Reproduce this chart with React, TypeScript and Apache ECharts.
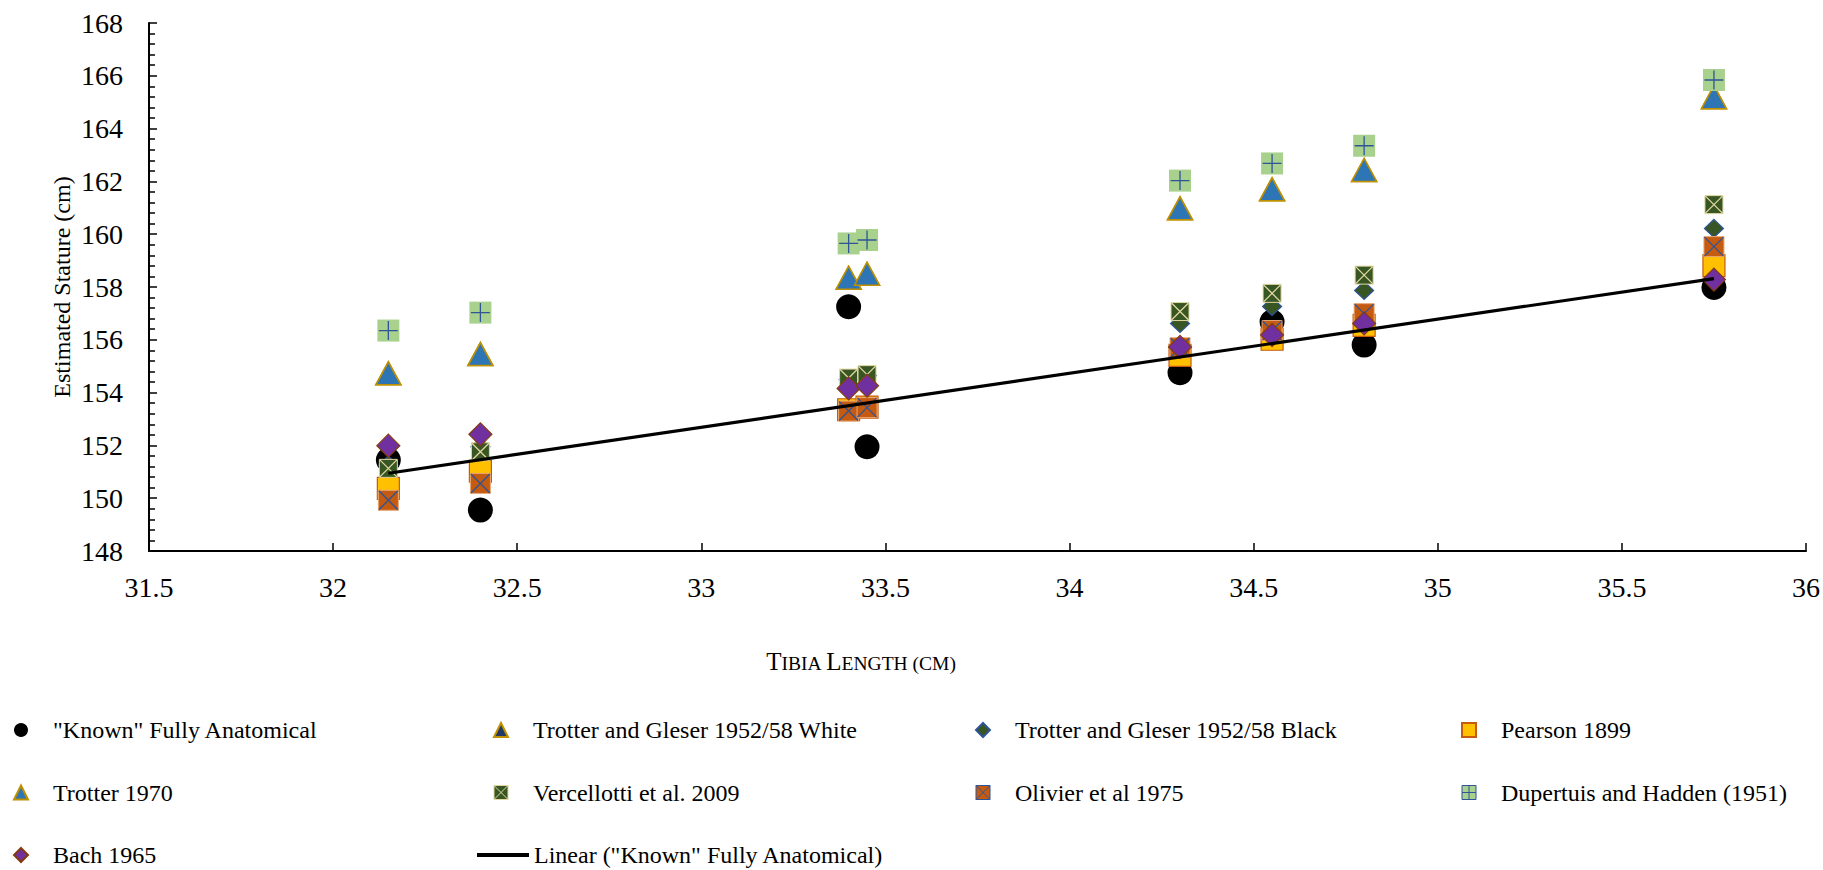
import React, { useEffect, useRef } from "react";
import * as echarts from "echarts";

const serif = "Liberation Serif";

const tibiaLength = [32.15, 32.4, 33.4, 33.45, 34.3, 34.55, 34.8, 35.75];
const knownStature = [151.45, 149.55, 157.25, 151.95, 154.75, 156.68, 155.8, 157.98];
const trotterGleserWhite = [154.73, 155.46, 158.35, 158.5, 160.98, 161.7, 162.43, 165.19];
const trotterGleserBlack = [151.25, 151.95, 154.5, 154.65, 156.62, 157.26, 157.87, 160.22];
const pearson1899 = [150.37, 151.02, 153.35, 153.45, 155.41, 156.02, 156.55, 158.81];
const trotter1970 = [154.73, 155.46, 158.35, 158.5, 160.98, 161.7, 162.43, 165.19];
const vercellotti2009 = [151.13, 151.76, 154.55, 154.68, 157.07, 157.76, 158.45, 161.12];
const olivier1975 = [149.92, 150.56, 153.3, 153.43, 155.7, 156.35, 156.99, 159.53];
const dupertuisHadden = [156.35, 157.03, 159.65, 159.78, 162.03, 162.68, 163.35, 165.84];
const bach1965 = [151.99, 152.42, 154.16, 154.26, 155.73, 156.18, 156.62, 158.28];

const seriesNames = [
  '"Known" Fully Anatomical',
  "Trotter and Gleser 1952/58 White",
  "Trotter and Gleser 1952/58 Black",
  "Pearson 1899",
  "Trotter 1970",
  "Vercellotti et al. 2009",
  "Olivier et al 1975",
  "Dupertuis and Hadden (1951)",
  "Bach 1965",
  'Linear ("Known" Fully Anatomical)',
];

const yTicks = { min: 148, max: 168, interval: 2 };
const xTicks = { min: 31.5, max: 36, interval: 0.5 };

const pts = (ys: number[]) => tibiaLength.map((x, i) => [x, ys[i]]);

function regression(xs: number[], ys: number[]) {
  const n = xs.length;
  const mx = xs.reduce((a, b) => a + b, 0) / n;
  const my = ys.reduce((a, b) => a + b, 0) / n;
  let sxy = 0, sxx = 0;
  for (let i = 0; i < n; i++) {
    sxy += (xs[i] - mx) * (ys[i] - my);
    sxx += (xs[i] - mx) * (xs[i] - mx);
  }
  const slope = sxy / sxx;
  const x0 = Math.min(...xs), x1 = Math.max(...xs);
  return [[x0, my + slope * (x0 - mx)], [x1, my + slope * (x1 - mx)]];
}

const PLUS_SQ = "path://M0,0H20V20H0Z M10,0V20 M0,10H20";
const X_SQ = "path://M0,0H20V20H0Z M0,0L20,20 M20,0L0,20";
const PLUS = "path://M10,0V20M0,10H20";
const XMARK = "path://M0,0L20,20M20,0L0,20";

export default function App() {
  const ref = useRef<HTMLDivElement>(null);
  useEffect(() => {
    if (!ref.current) return;
    const chart = echarts.init(ref.current, undefined, { renderer: "svg" });
    const legendText = (pad: number) => ({
      fontFamily: serif,
      fontSize: 24,
      color: "#000",
      lineHeight: 24,
      padding: [0, 0, 0, pad],
    });
    const colLegend = (data: any[], left: number) => ({
      orient: "vertical",
      left,
      top: 718,
      padding: 0,
      itemGap: 38.5,
      itemWidth: 14,
      itemHeight: 14,
      selectedMode: false,
      data,
      textStyle: legendText(20),
    });
    const overlay = (ys: number[], sym: string, size: number, color: string) => ({
      name: "_overlay",
      type: "scatter",
      data: pts(ys),
      symbol: sym,
      symbolSize: size,
      silent: true,
      itemStyle: { color: "transparent", borderColor: color, borderWidth: 1.3, opacity: 1 },
    });
    const option: any = {
      animation: false,
      textStyle: { fontFamily: serif, color: "#000" },
      grid: { left: 149, right: 14, top: 23, bottom: 319 },
      xAxis: {
        type: "value",
        ...xTicks,
        axisLine: { lineStyle: { color: "#000", width: 2 } },
        axisTick: { inside: true, length: 8, lineStyle: { color: "#000", width: 1.5 } },
        axisLabel: { fontFamily: serif, fontSize: 28, color: "#000", margin: 22 },
        splitLine: { show: false },
      },
      yAxis: {
        type: "value",
        ...yTicks,
        axisLine: { show: true, lineStyle: { color: "#000", width: 2 } },
        axisTick: { show: true, inside: true, length: 8, lineStyle: { color: "#000", width: 1.5 } },
        minorTick: { show: true, splitNumber: 5, length: 6, lineStyle: { color: "#000", width: 1.5 } },
        axisLabel: { fontFamily: serif, fontSize: 28, color: "#000", margin: 26 },
        splitLine: { show: false },
      },
      legend: [
        colLegend([seriesNames[0], seriesNames[4], seriesNames[8]], 13),
        colLegend(
          [
            seriesNames[1],
            { name: seriesNames[5], icon: X_SQ, itemStyle: { borderColor: "#e2d8a0", borderWidth: 1 } },
          ],
          493
        ),
        colLegend(
          [
            seriesNames[2],
            { name: seriesNames[6], icon: X_SQ, itemStyle: { borderColor: "#2f5597", borderWidth: 1 } },
          ],
          975
        ),
        colLegend(
          [
            seriesNames[3],
            { name: seriesNames[7], icon: PLUS_SQ, itemStyle: { borderColor: "#2f5597", borderWidth: 1 } },
          ],
          1461
        ),
        {
          left: 477,
          top: 843,
          padding: 0,
          itemWidth: 52,
          itemHeight: 4,
          selectedMode: false,
          data: [{ name: seriesNames[9], icon: "rect" }],
          textStyle: legendText(0),
        },
      ],
      graphic: [
        {
          type: "text",
          x: 62,
          y: 287,
          rotation: Math.PI / 2,
          style: {
            text: "Estimated Stature (cm)",
            fontFamily: serif,
            fontSize: 24,
            fill: "#000",
            align: "center",
            verticalAlign: "middle",
            textAlign: "center",
            textVerticalAlign: "middle",
          },
        },
        {
          type: "text",
          x: 861,
          y: 661,
          style: {
            text: "{a|T}{b|IBIA} {a|L}{b|ENGTH} {b|(CM)}",
            fontFamily: serif,
            fontSize: 19.5,
            fill: "#000",
            align: "center",
            verticalAlign: "middle",
            textAlign: "center",
            textVerticalAlign: "middle",
            rich: {
              a: { fontFamily: serif, fontSize: 25, lineHeight: 25, verticalAlign: "bottom", fill: "#000" },
              b: { fontFamily: serif, fontSize: 19.5, lineHeight: 19.5, verticalAlign: "bottom", fill: "#000" },
            },
          },
        },
      ],
      series: [
        {
          name: seriesNames[0],
          type: "scatter",
          data: pts(knownStature),
          symbol: "circle",
          symbolSize: 25,
          itemStyle: { color: "#000", opacity: 1 },
        },
        {
          name: seriesNames[1],
          type: "scatter",
          data: pts(trotterGleserWhite),
          symbol: "triangle",
          symbolSize: [25, 23],
          itemStyle: { color: "#203864", borderColor: "#bf9000", borderWidth: 1.5, opacity: 1 },
        },
        {
          name: seriesNames[2],
          type: "scatter",
          data: pts(trotterGleserBlack),
          symbol: "diamond",
          symbolSize: [19, 18],
          itemStyle: { color: "#375623", borderColor: "#2f5597", borderWidth: 1.2, opacity: 1 },
        },
        {
          name: seriesNames[3],
          type: "scatter",
          data: pts(pearson1899),
          symbol: "rect",
          symbolSize: 22,
          itemStyle: { color: "#ffc000", borderColor: "#c55a11", borderWidth: 1.2, opacity: 1 },
        },
        {
          name: seriesNames[4],
          type: "scatter",
          data: pts(trotter1970),
          symbol: "triangle",
          symbolSize: [25, 23],
          itemStyle: { color: "#2e75b6", borderColor: "#bf9000", borderWidth: 1.5, opacity: 1 },
        },
        {
          name: seriesNames[5],
          type: "scatter",
          data: pts(vercellotti2009),
          symbol: "rect",
          symbolSize: 18,
          itemStyle: { color: "#375623", borderColor: "#e2d8a0", borderWidth: 1, opacity: 1 },
        },
        overlay(vercellotti2009, XMARK, 17, "#e2d8a0"),
        {
          name: seriesNames[6],
          type: "scatter",
          data: pts(olivier1975),
          symbol: "rect",
          symbolSize: 20,
          itemStyle: { color: "#c55a11", borderColor: "#e9a774", borderWidth: 1, opacity: 1 },
        },
        overlay(olivier1975, XMARK, 19, "#2f5597"),
        {
          name: seriesNames[7],
          type: "scatter",
          data: pts(dupertuisHadden),
          symbol: "rect",
          symbolSize: 22,
          itemStyle: { color: "#a9d18e", opacity: 1 },
        },
        overlay(dupertuisHadden, PLUS, 19, "#2f5597"),
        {
          name: seriesNames[8],
          type: "scatter",
          data: pts(bach1965),
          symbol: "diamond",
          symbolSize: 23,
          itemStyle: { color: "#7030a0", borderColor: "#843c0c", borderWidth: 1.2, opacity: 1 },
        },
        {
          name: seriesNames[9],
          type: "line",
          data: regression(tibiaLength, knownStature),
          symbol: "none",
          showSymbol: false,
          lineStyle: { color: "#000", width: 3.2 },
          itemStyle: { color: "#000" },
        },
      ],
    };
    chart.setOption(option);
    return () => chart.dispose();
  }, []);
  return (
    <div
      ref={ref}
      style={{ position: "fixed", left: 0, top: 0, width: 1823, height: 870, background: "#fff" }}
    />
  );
}
